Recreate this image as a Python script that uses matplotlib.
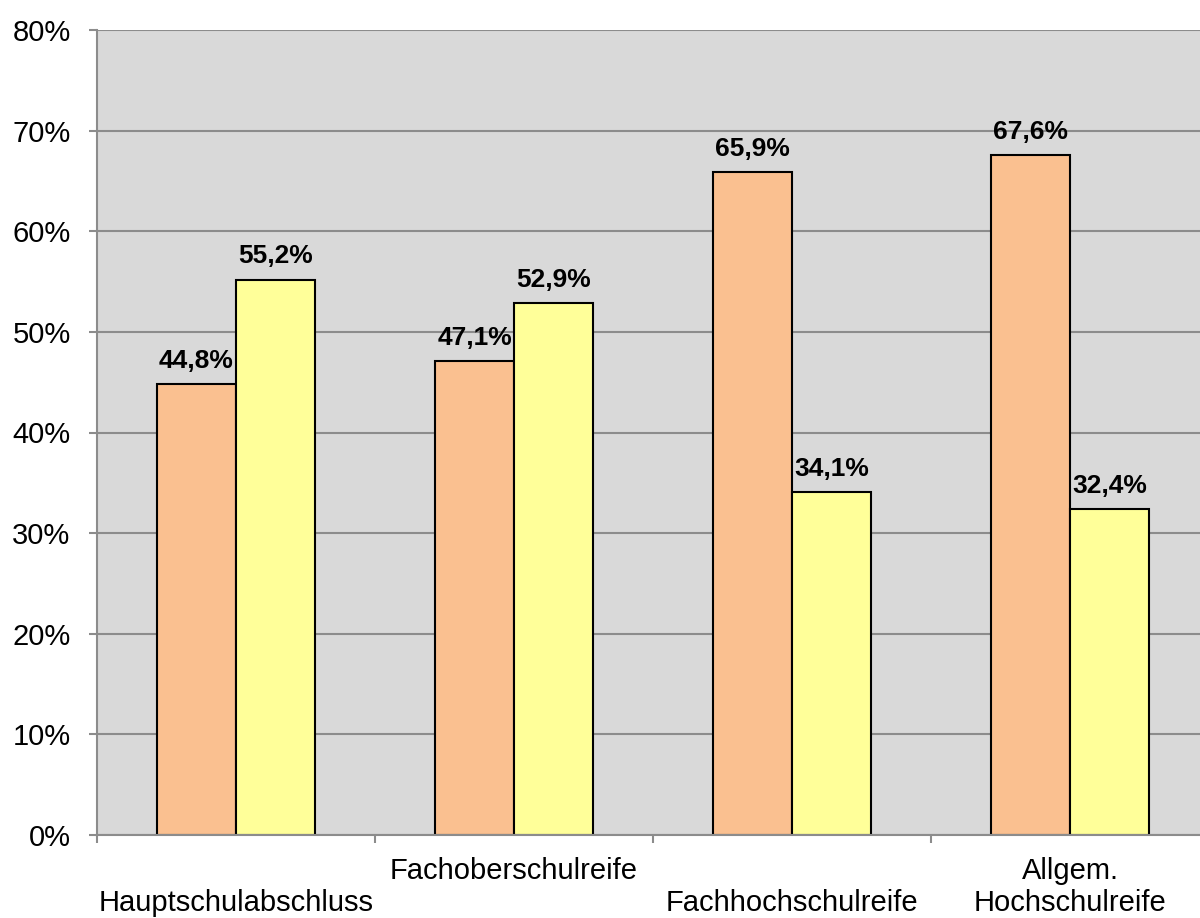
import numpy as np
import matplotlib
matplotlib.use("Agg")
import matplotlib.pyplot as plt
import matplotlib.transforms as mtransforms

plt.rcParams['font.family'] = ['Liberation Sans', 'DejaVu Sans']

# Daten
kategorien = ["Hauptschulabschluss", "Fachoberschulreife", "Fachhochschulreife", "Allgem.\nHochschulreife"]
werte_orange = [44.8, 47.1, 65.9, 67.6]
werte_gelb = [55.2, 52.9, 34.1, 32.4]
y_ticks = [0, 10, 20, 30, 40, 50, 60, 70, 80]

# versetzte Beschriftung (0 = unten, 1 = oben)
versatz = [0, 1, 0, 0]

fig = plt.figure(figsize=(12, 9.18), dpi=100)
ax = fig.add_axes([97 / 1200, 1 - 835 / 918, 1112 / 1200, 805 / 918])

ax.set_facecolor("#D9D9D9")
x = np.arange(len(kategorien))
breite = 0.284

b1 = ax.bar(x - breite / 2, werte_orange, breite, color="#FAC090", edgecolor="black", linewidth=1.5, zorder=1)
b2 = ax.bar(x + breite / 2, werte_gelb, breite, color="#FFFF99", edgecolor="black", linewidth=1.5, zorder=1)

for balken, werte in [(b1, werte_orange), (b2, werte_gelb)]:
    for r, w in zip(balken, werte):
        ax.annotate(f"{w:.1f}%".replace(".", ","), (r.get_x() + r.get_width() / 2, r.get_height()),
                    xytext=(0, 8), textcoords="offset points", ha="center", va="bottom",
                    fontsize=19, fontweight="bold")

ax.set_xlim(-0.5, len(kategorien) - 0.5)
ax.set_ylim(0, 80)
ax.set_yticks(y_ticks)
ax.set_yticklabels([f"{t}%" for t in y_ticks], fontsize=21)
ax.set_xticks(np.arange(len(kategorien) + 1) - 0.5)
ax.set_xticklabels([])

ax.grid(axis="y", color="#8C8C8C", linewidth=1.5)
ax.set_axisbelow(True)
ax.tick_params(axis="y", length=6, width=1.5, color="#8C8C8C", pad=13)
ax.tick_params(axis="x", length=6, width=1.5, color="#8C8C8C")

for s in ["top", "right"]:
    ax.spines[s].set_visible(False)
for s in ["left", "bottom"]:
    ax.spines[s].set_color("#8C8C8C")
    ax.spines[s].set_linewidth(1.5)
    ax.spines[s].set_zorder(3)

# Kategorienbeschriftung
trans = mtransforms.blended_transform_factory(ax.transData, ax.transAxes)
ebenen = [-76 / 805, -44 / 805]
for i, name in enumerate(kategorien):
    zeilen = name.split("\n")
    for j, zeile in enumerate(reversed(zeilen)):
        ebene = ebenen[min(versatz[i] + j, 1)]
        ax.text(i, ebene, zeile, transform=trans, ha="center", va="baseline", fontsize=21)

fig.savefig("out.png", dpi=100)
